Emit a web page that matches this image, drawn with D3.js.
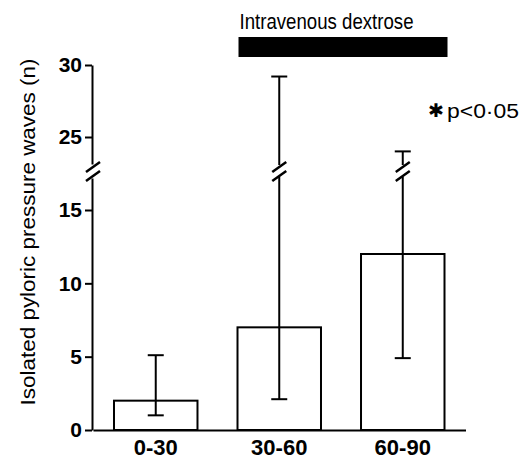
<!DOCTYPE html>
<html>
<head>
<meta charset="utf-8">
<script src="https://cdn.jsdelivr.net/npm/d3@7"></script>
<style>
  body { margin: 0; background: #fff; }
  svg { display: block; }
  text { font-family: "Liberation Sans", Arial, Helvetica, sans-serif; fill: #000; }
</style>
</head>
<body>
<svg id="chart" width="524" height="460"></svg>
<script>
// chart data
const categories = ["0-30", "30-60", "60-90"];
const means = [2, 7, 12];
const errLow = [1, 2.1, 4.9];
const errHigh = [5.1, 29.2, 24];
const lowTicks = [0, 5, 10, 15];
const highTicks = [25, 30];
const treatment = ["30-60", "60-90"];

const svg = d3.select("#chart");
const breakY = 171;

// broken y axis: two linear pieces
let yLow = d3.scaleLinear().domain([0, 15]).range([430, 210]);
let yHigh = d3.scaleLinear().domain([25, 30]).range([137, 65]);
const y = v => (v <= 20 ? yLow(v) : yHigh(v));

let x = d3.scaleBand()
  .domain(categories)
  .range([93, 465.5])
  .paddingInner(0.324)
  .paddingOuter(0.17);

const rows = categories.map((c, i) => ({
  cat: c, mean: means[i], lo: errLow[i], hi: errHigh[i]
}));

// y axis pieces
const lowAx = d3.scaleLinear()
  .domain([0, yLow.invert(breakY + 7)])
  .range([430, breakY + 7]);
const highAx = d3.scaleLinear()
  .domain([yHigh.invert(breakY - 7), 30])
  .range([breakY - 7, 65]);

function styleAxis(g) {
  g.select(".domain").attr("stroke-width", 2);
  g.selectAll(".tick line").attr("stroke-width", 2);
  g.selectAll(".tick text")
    .attr("font-size", 21)
    .attr("font-weight", "bold")
    .attr("font-family", "Liberation Sans, Arial, sans-serif");
}

svg.append("g")
  .attr("transform", "translate(92,0)")
  .call(d3.axisLeft(lowAx).tickValues(lowTicks).tickFormat(d3.format("d"))
    .tickSize(7).tickSizeOuter(0).tickPadding(3))
  .call(styleAxis);

svg.append("g")
  .attr("transform", "translate(92,0)")
  .call(d3.axisLeft(highAx).tickValues(highTicks).tickFormat(d3.format("d"))
    .tickSize(7).tickSizeOuter(0).tickPadding(3))
  .call(styleAxis);

function breakMarks(cx) {
  [breakY - 4, breakY + 5].forEach(c => {
    svg.append("line")
      .attr("x1", cx - 7).attr("y1", c + 5)
      .attr("x2", cx + 7).attr("y2", c - 5)
      .attr("stroke", "#000")
      .attr("stroke-width", 2.5);
  });
}
breakMarks(93);

// bars
svg.selectAll(".bar")
  .data(rows)
  .enter()
  .append("rect")
  .attr("class", "bar")
  .attr("x", d => x(d.cat))
  .attr("y", d => y(d.mean))
  .attr("width", x.bandwidth())
  .attr("height", d => 430 - y(d.mean))
  .attr("fill", "#fff")
  .attr("stroke", "#000")
  .attr("stroke-width", 2);

// x axis
const xAxis = svg.append("g")
  .attr("transform", "translate(0,430)")
  .call(d3.axisBottom(x).tickSize(0).tickSizeOuter(0).tickPadding(9));
xAxis.select(".domain").attr("stroke-width", 2);
xAxis.selectAll(".tick text")
  .attr("font-size", 22)
  .attr("font-weight", "bold")
  .attr("font-family", "Liberation Sans, Arial, sans-serif");

// error bars
const err = svg.selectAll(".err")
  .data(rows)
  .enter()
  .append("g")
  .attr("class", "err")
  .attr("transform", d => `translate(${x(d.cat) + x.bandwidth() / 2},0)`);

err.each(function(d) {
  const g = d3.select(this);
  const cx = x(d.cat) + x.bandwidth() / 2;
  const broken = d.hi > 20;
  if (broken) {
    g.append("line").attr("y1", y(d.lo)).attr("y2", breakY + 6);
    g.append("line").attr("y1", breakY - 6).attr("y2", y(d.hi));
    breakMarks(cx);
  } else {
    g.append("line").attr("y1", y(d.lo)).attr("y2", y(d.hi));
  }
  [d.lo, d.hi].forEach(v => {
    g.append("line").attr("x1", -8).attr("x2", 8).attr("y1", y(v)).attr("y2", y(v));
  });
});
err.selectAll("line")
  .attr("stroke", "#000")
  .attr("stroke-width", 2);

// treatment bar
const tx0 = x(treatment[0]);
const tx1 = x(treatment[1]) + x.bandwidth();
svg.append("rect")
  .attr("x", tx0 + 1)
  .attr("y", 37)
  .attr("width", tx1 - tx0 + 2)
  .attr("height", 20)
  .attr("fill", "#000");

svg.append("text")
  .attr("x", tx0 + 2)
  .attr("y", 29)
  .attr("font-size", 22)
  .attr("textLength", 174)
  .attr("lengthAdjust", "spacingAndGlyphs")
  .text("Intravenous dextrose");

// y label
svg.append("text")
  .attr("transform", "translate(35,232) rotate(-90)")
  .attr("text-anchor", "middle")
  .attr("font-size", 21)
  .attr("textLength", 347)
  .attr("lengthAdjust", "spacingAndGlyphs")
  .text("Isolated pyloric pressure waves (n)");

// significance note
svg.append("text")
  .attr("x", 436)
  .attr("y", 117)
  .attr("text-anchor", "middle")
  .attr("font-size", 19)
  .attr("font-family", "DejaVu Sans, sans-serif")
  .text("\u2731");

svg.append("text")
  .attr("x", 447)
  .attr("y", 118)
  .attr("font-size", 20)
  .attr("textLength", 72)
  .attr("lengthAdjust", "spacingAndGlyphs")
  .text("p<0\u00b705");
</script>
</body>
</html>
